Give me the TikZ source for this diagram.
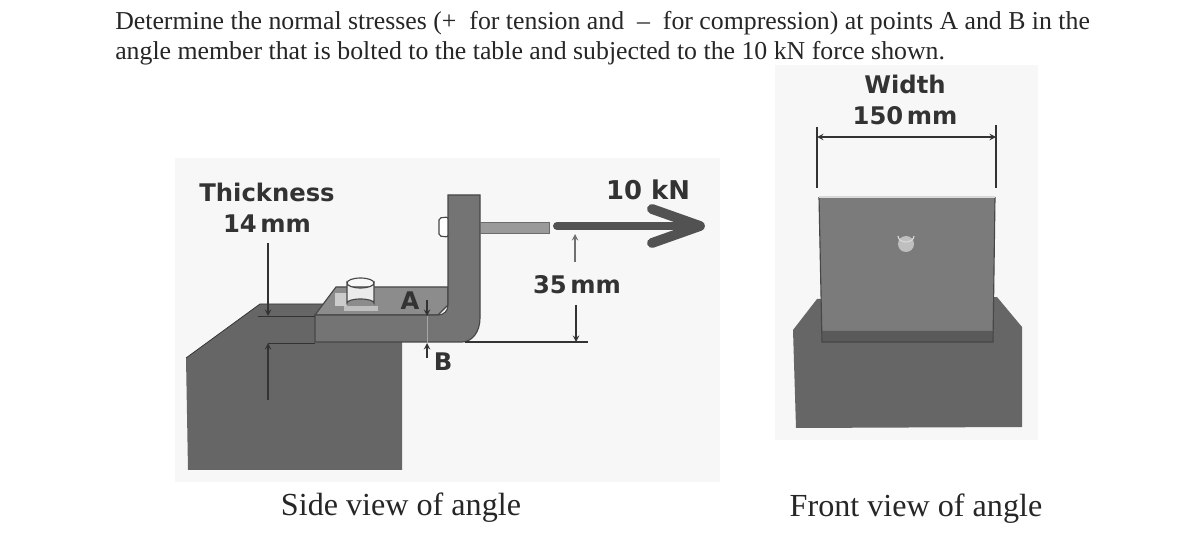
\documentclass[tikz,border=0pt]{standalone}
\usepackage{fontspec}
\setmainfont{Liberation Serif}
\newfontfamily\labelfont{DejaVu Sans}
\definecolor{paper}{HTML}{F7F7F7}
\definecolor{tablegray}{HTML}{666666}
\definecolor{facegray}{HTML}{747474}
\definecolor{topgray}{HTML}{8C8C8C}
\definecolor{inkgray}{HTML}{333333}
\definecolor{rodgray}{HTML}{9A9A9A}
\tikzset{
	bodytext/.style={anchor=base west,inner sep=0pt,font=\fontsize{19.35}{21}\selectfont,text=black!85},
	captiontext/.style={inner sep=0pt,font=\fontsize{24.1}{26}\selectfont,text=black!85},
	dimtext/.style={inner sep=0pt,align=center,font=\labelfont\bfseries\fontsize{18.2}{23.5}\selectfont,text=inkgray},
	dimline/.style={draw=inkgray,line width=0.4mm},
	outline/.style={draw=inkgray!90,line width=0.3mm}
}
\newcommand{\tightsp}{\hspace{2.6pt}}
\begin{document}
\begin{tikzpicture}[x=0.75pt,y=-0.75pt]
    \useasboundingbox (0,0) rectangle (1192,548);
    \fill[white] (0,0) rectangle (1192,548);
    \fill[paper] (175,158) rectangle (720,482);
    \fill[paper] (775,65) rectangle (1038,440);

    \node[bodytext] (line1) at (115,30) {Determine the normal stresses (+\ \ for tension and \ -- \ for compression) at points A and B in the};
    \node[bodytext] (line2) at (115,60) {angle member that is bolted to the table and subjected to the 10 kN force shown.};

    \coordinate (t1) at (260,304);
    \coordinate (t2) at (186,358);
    \coordinate (t3) at (188,470);
    \coordinate (t4) at (402,470);
    \coordinate (t5) at (402,342);
    \coordinate (t6) at (340,304);
    \fill[tablegray] (t1) -- (t2) -- (t3) -- (t4) -- (t5) -- (t6) -- cycle;
    \draw[inkgray,line width=0.2mm] (t2) -- (t1) -- (t6);

    \coordinate (a1) at (315,315);
    \coordinate (a2) at (315,342);
    \coordinate (a3) at (462,342);
    \coordinate (a4) at (480,318);
    \coordinate (a5) at (480,195);
    \coordinate (a6) at (448,195);
    \coordinate (a7) at (448,305);
    \coordinate (a8) at (438,315);
    \coordinate (a9) at (336,287);
    \coordinate (a10) at (448,287);
    \fill[topgray,outline] (a1) -- (a9) -- (a10) -- (a7) -- (a8) -- cycle;
    \fill[facegray,outline] (a1) -- (a2) -- (a3) .. controls (472,342) and (480,332) .. (a4) -- (a5) -- (a6) -- (a7) .. controls (448,311) and (444,315) .. (a8) -- cycle;

    \fill[black!25] (344,306) rectangle (378,311);
    \fill[black!20] (335,293) rectangle (347,306);
    \fill[black!8,outline] (347,283) -- (347,303) arc[start angle=180,end angle=360,x radius=13.5,y radius=4] -- (374,283) arc[start angle=0,end angle=180,x radius=13.5,y radius=5] -- cycle;
    \draw[outline] (347,283) arc[start angle=180,end angle=360,x radius=13.5,y radius=5];

    \fill[white,outline,rounded corners=1.5pt] (448,217) -- (439,218) -- (439,236) -- (448,237) -- cycle;
    \fill[rodgray,draw=rodgray!70!black,line width=0.2mm] (480,222) rectangle (549,233);

    \coordinate (arrowstart) at (557,226);
    \coordinate (arrowtip) at (700,226);
    \coordinate (barb1) at (652,209);
    \coordinate (barb2) at (652,243);
    \draw[inkgray!85,line width=2.1mm,line cap=round] (arrowstart) -- (arrowtip);
    \draw[inkgray!85,line width=2.6mm,line cap=round,line join=round] (barb1) -- (arrowtip) -- (barb2);

    \node[dimtext,font=\labelfont\bfseries\fontsize{19.4}{23.5}\selectfont] (force) at (648,190) {10 kN};
    \node[dimtext] (lever) at (577,284.5) {35\tightsp mm};
    \node[dimtext] (thick) at (267,208) {Thickness\\14\tightsp mm};
    \node[dimtext] (pta) at (410,301) {A};
    \node[dimtext] (ptb) at (443,362) {B};

    \coordinate (l1) at (575,262);
    \coordinate (l2) at (575,234);
    \coordinate (l3) at (576,305);
    \coordinate (l4) at (576,342);
    \coordinate (l5) at (465,342);
    \coordinate (l6) at (588,342);
    \draw[-stealth,dimline,draw=inkgray!70] (l1) -- (l2);
    \draw[-stealth,dimline] (l3) -- (l4);
    \draw[dimline] (l5) -- (l6);

    \coordinate (h1) at (268,243);
    \coordinate (h2) at (268,316);
    \coordinate (h3) at (268,400);
    \coordinate (h4) at (268,343);
    \coordinate (h5) at (258,316);
    \coordinate (h6) at (315,316);
    \coordinate (h7) at (315,343);
    \draw[-stealth,dimline] (h1) -- (h2);
    \draw[-stealth,dimline] (h3) -- (h4);
    \draw[dimline,line width=0.2mm] (h5) -- (h6);
    \draw[dimline,line width=0.2mm] (h4) -- (h7);

    \coordinate (b1) at (427,300);
    \coordinate (b2) at (427,316);
    \coordinate (b3) at (427,358);
    \coordinate (b4) at (427,343);
    \draw[-stealth,dimline] (b1) -- (b2);
    \draw[-stealth,dimline] (b3) -- (b4);
    \draw[black!35,line width=0.2mm] (b2) -- (b4);

    \coordinate (f1) at (793,330);
    \coordinate (f2) at (817,299);
    \coordinate (f3) at (997,297);
    \coordinate (f4) at (1022,327);
    \coordinate (f5) at (1022,427);
    \coordinate (f6) at (796,428);
    \fill[tablegray] (f1) -- (f2) -- (f3) -- (f4) -- (f5) -- (f6) -- cycle;

    \coordinate (p1) at (819,197);
    \coordinate (p2) at (995,197);
    \coordinate (p3) at (993,342);
    \coordinate (p4) at (822,342);
    \fill[facegray!95!white] (p1) -- (p2) -- (p3) -- (p4) -- cycle;
    \fill[inkgray!40!facegray] (821,331) -- (994,331) -- (p3) -- (p4) -- cycle;
    \draw[outline] (p2) -- (p3) -- (p4) -- (p1);
    \draw[black!15,line width=0.4mm] (p1) -- (p2);

    \fill[black!25] (906,244) circle (8);
    \draw[black!15,line width=0.3mm] (898,236) arc[start angle=180,end angle=360,x radius=8,y radius=-6];

    \node[dimtext] (wide) at (905,100) {Width\\150\tightsp mm};

    \coordinate (w1) at (817,127);
    \coordinate (w2) at (817,188);
    \coordinate (w3) at (996,125);
    \coordinate (w4) at (996,188);
    \coordinate (w5) at (817,137);
    \coordinate (w6) at (996,137);
    \draw[dimline] (w1) -- (w2);
    \draw[dimline] (w3) -- (w4);
    \draw[stealth-stealth,dimline] (w5) -- (w6);

    \node[captiontext] (sidecap) at (401,507.5) {Side view of angle};
    \node[captiontext] (frontcap) at (916,508.5) {Front view of angle};
\end{tikzpicture}
\end{document}
